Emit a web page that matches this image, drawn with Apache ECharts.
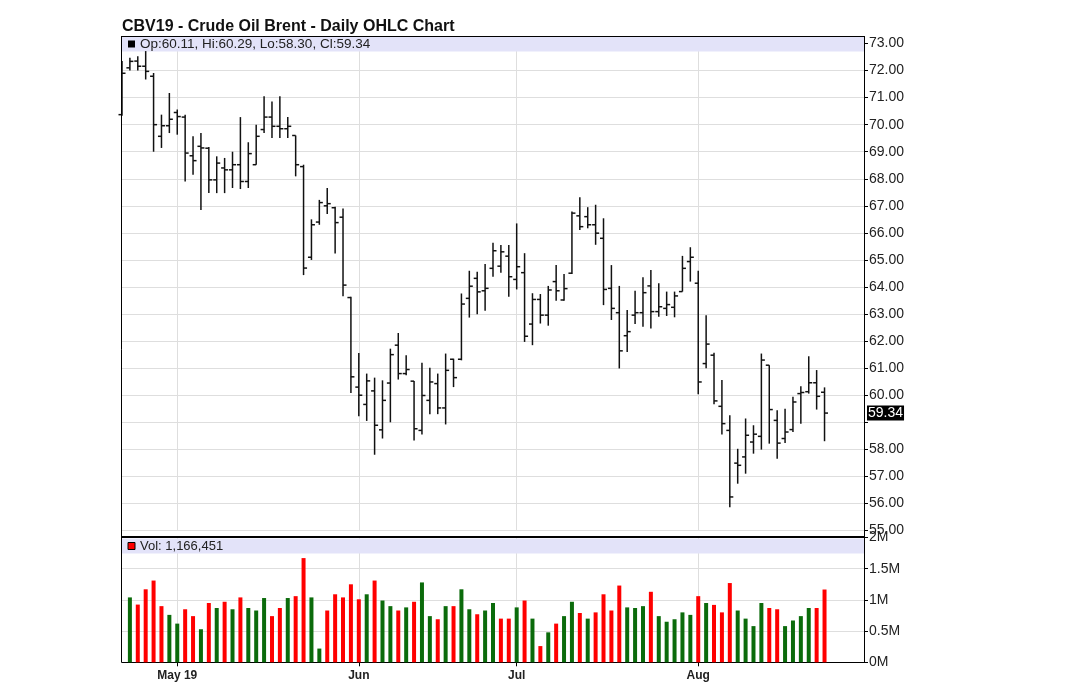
<!DOCTYPE html>
<html>
<head>
<meta charset="utf-8">
<title>CBV19 - Crude Oil Brent - Daily OHLC Chart</title>
<script src="https://cdn.jsdelivr.net/npm/echarts@6/dist/echarts.min.js"></script>
<style>
  html, body { margin: 0; padding: 0; background: #fff; }
  #chart { width: 1085px; height: 689px; }
</style>
</head>
<body>
<div id="chart"></div>
<script>
  // daily sessions from 2019-04-22, one value per session
  const firstSession = '2019-04-22';
  const emptySlots = 5; // blank space right of the last bar

  const opens = [70.37, 72.10, 72.35, 72.16, 71.79, 69.57, 69.96, 70.45, 70.28, 68.85,
    69.20, 69.13, 67.96, 68.40, 68.33, 68.52, 67.90, 68.52, 69.82, 70.28,
    69.94, 69.85, 69.60, 68.45, 65.10, 66.40, 67.00, 66.93, 66.58, 63.61,
    60.30, 59.66, 60.16, 58.72, 60.45, 61.85, 60.80, 60.52, 58.70, 59.81,
    60.43, 59.53, 61.33, 61.33, 63.58, 64.32, 63.86, 64.69, 64.77, 65.14,
    64.28, 64.53, 62.63, 63.54, 62.96, 64.20, 63.52, 64.51, 66.63, 66.60,
    66.30, 65.80, 63.95, 63.05, 62.20, 62.96, 63.05, 64.04, 63.09, 63.21,
    63.25, 63.83, 64.94, 64.14, 61.17, 61.48, 59.59, 58.70, 57.49, 57.72,
    58.27, 58.48, 61.11, 59.07, 58.40, 58.73, 60.06, 60.13, 60.46, 60.11];
  const highs = [72.35, 72.47, 72.53, 72.72, 71.91, 70.37, 71.17, 70.56, 70.37, 69.57,
    69.69, 69.17, 68.83, 68.77, 69.00, 70.28, 69.35, 70.00, 71.05, 70.86,
    71.05, 70.28, 69.60, 68.52, 66.50, 67.22, 67.66, 66.97, 66.90, 63.64,
    61.56, 60.80, 60.65, 60.55, 61.72, 62.30, 61.48, 60.53, 61.20, 61.02,
    60.80, 61.54, 61.35, 63.76, 64.60, 64.56, 64.85, 65.64, 65.55, 65.55,
    66.35, 65.25, 63.77, 63.74, 64.04, 64.81, 64.48, 66.79, 67.32, 66.95,
    67.04, 66.54, 64.81, 64.04, 63.15, 63.86, 64.36, 64.63, 64.14, 63.83,
    63.83, 65.15, 65.47, 64.60, 62.96, 61.57, 60.56, 59.26, 58.02, 59.14,
    58.89, 61.54, 61.11, 59.44, 59.50, 59.94, 60.33, 61.44, 60.93, 60.29];
  const lows = [70.33, 72.00, 72.00, 71.67, 69.00, 69.14, 69.69, 69.63, 67.90, 68.15,
    66.85, 67.47, 67.47, 67.47, 67.66, 67.62, 67.66, 68.52, 69.69, 69.51,
    69.51, 69.51, 68.09, 64.44, 65.00, 66.30, 66.70, 65.24, 63.66, 60.08,
    59.22, 59.05, 57.80, 58.40, 59.00, 60.58, 60.74, 58.33, 58.55, 59.30,
    59.30, 58.92, 60.30, 61.29, 62.87, 62.99, 63.12, 64.38, 64.53, 63.64,
    63.91, 61.97, 61.85, 62.65, 62.57, 63.49, 63.49, 64.48, 66.11, 66.17,
    65.56, 63.33, 62.78, 60.99, 61.60, 62.63, 62.53, 62.47, 62.90, 62.93,
    62.88, 63.83, 64.20, 60.04, 61.00, 59.67, 58.55, 55.86, 56.73, 57.10,
    57.84, 57.99, 58.21, 57.65, 58.23, 58.64, 58.95, 60.06, 59.47, 58.30];
  const closes = [71.90, 72.34, 72.16, 71.97, 70.00, 69.96, 70.20, 70.30, 68.95, 68.67,
    69.14, 67.96, 68.58, 68.33, 68.52, 67.90, 68.93, 69.57, 70.28, 69.94,
    69.85, 69.94, 68.52, 64.70, 66.30, 67.12, 67.08, 66.38, 64.07, 60.68,
    60.00, 60.53, 58.89, 59.81, 61.50, 60.80, 60.95, 58.76, 59.99, 60.49,
    59.53, 60.92, 60.65, 63.37, 64.03, 63.82, 63.95, 65.34, 65.30, 64.38,
    64.75, 62.18, 63.54, 62.96, 63.89, 63.86, 63.94, 66.73, 66.23, 66.30,
    65.99, 63.91, 63.21, 61.64, 62.35, 63.05, 63.79, 63.09, 63.27, 63.35,
    63.67, 64.69, 65.10, 60.49, 61.89, 59.79, 58.95, 56.24, 57.41, 58.52,
    58.56, 61.30, 59.47, 58.23, 58.64, 59.75, 60.10, 60.46, 59.96, 59.34];
  const volumes = [null, 1040000, 925000, 1170000, 1310000, 900000, 760000, 620000, 850000, 740000,
    530000, 950000, 870000, 970000, 850000, 1040000, 870000, 830000, 1030000, 740000,
    870000, 1030000, 1060000, 1670000, 1040000, 220000, 830000, 1090000, 1040000, 1250000,
    1010000, 1090000, 1310000, 990000, 900000, 830000, 880000, 970000, 1280000, 740000,
    690000, 900000, 900000, 1170000, 850000, 770000, 830000, 950000, 700000, 700000,
    880000, 990000, 700000, 260000, 480000, 620000, 740000, 970000, 790000, 700000,
    800000, 1090000, 830000, 1230000, 880000, 870000, 900000, 1130000, 740000, 650000,
    690000, 800000, 760000, 1060000, 950000, 920000, 800000, 1270000, 830000, 700000,
    580000, 950000, 870000, 850000, 580000, 670000, 740000, 870000, 870000, 1166451];

  const monthNames = ['Jan', 'Feb', 'Mar', 'Apr', 'May', 'Jun', 'Jul', 'Aug', 'Sep', 'Oct', 'Nov', 'Dec'];
  const priceMin = 55, priceMax = 73, priceStep = 1;
  const volMax = 2000000, volStep = 500000;

  const UP = '#0b6b0b', DOWN = '#ff0000', BAND = '#e3e3f9', GRIDLINE = '#dedede';
  const FONT = 'Arial, "Liberation Sans", sans-serif';

  // weekday dates for the sessions and the blank slots after them
  function weekdays(start, n) {
    let out = [];
    let d = new Date(start + 'T12:00:00Z');
    while (out.length < n) {
      let wd = d.getUTCDay();
      if (wd !== 0 && wd !== 6) out.push(d.toISOString().slice(0, 10));
      d.setUTCDate(d.getUTCDate() + 1);
    }
    return out;
  }
  const dates = weekdays(firstSession, closes.length + emptySlots);

  // first session of each month gets a tick, label and grid line
  let monthStart = {};
  dates.forEach((d, i) => {
    if (i > 0 && d.slice(5, 7) !== dates[i - 1].slice(5, 7)) {
      let m = parseInt(d.slice(5, 7), 10) - 1;
      monthStart[i] = m === 4 ? monthNames[m] + ' ' + d.slice(2, 4) : monthNames[m];
    }
  });
  const isMonthStart = (idx) => monthStart[idx] !== undefined;

  const last = closes.length - 1;
  const lastClose = closes[last];

  let ohlcData = [];
  for (let i = 0; i < closes.length; i++) {
    ohlcData.push([i, opens[i], highs[i], lows[i], closes[i]]);
  }
  let volData = volumes.map((v, i) => {
    if (v == null) return null;
    return {value: v, itemStyle: {color: closes[i] >= closes[i - 1] ? UP : DOWN}};
  });

  function renderOhlc(params, api) {
    let idx = api.value(0);
    let o = api.coord([idx, api.value(1)]);
    let h = api.coord([idx, api.value(2)]);
    let l = api.coord([idx, api.value(3)]);
    let c = api.coord([idx, api.value(4)]);
    let x = h[0];
    let st = {stroke: '#111', lineWidth: 1.5};
    return {
      type: 'group',
      children: [
        {type: 'line', shape: {x1: x, y1: h[1], x2: x, y2: l[1]}, style: st},
        {type: 'line', shape: {x1: x - 3.5, y1: o[1], x2: x, y2: o[1]}, style: st},
        {type: 'line', shape: {x1: x, y1: c[1], x2: x + 3.5, y2: c[1]}, style: st}
      ]
    };
  }

  const fmt = (n) => n.toFixed(2);
  const headerText = 'Op:' + fmt(opens[last]) + ', Hi:' + fmt(highs[last]) +
    ', Lo:' + fmt(lows[last]) + ', Cl:' + fmt(lastClose);
  const volText = 'Vol: ' + volumes[last].toLocaleString('en-US');

  const chart = echarts.init(document.getElementById('chart'));
  const L = 122, R = 864;

  const option = {
    animation: false,
    backgroundColor: '#fff',
    textStyle: {fontFamily: FONT},
    title: {
      text: 'CBV19 - Crude Oil Brent - Daily OHLC Chart',
      left: 117, top: 14,
      textStyle: {fontSize: 16, fontWeight: 'bold', color: '#111', fontFamily: FONT}
    },
    grid: [
      {left: L, right: 1085 - R, top: 43.5, height: 487},
      {left: L, right: 1085 - R, top: 537.5, height: 124.8}
    ],
    xAxis: [
      {
        type: 'category', gridIndex: 0, data: dates, boundaryGap: false,
        axisLine: {show: false}, axisTick: {show: false}, axisLabel: {show: false},
        splitLine: {show: true, interval: isMonthStart, lineStyle: {color: GRIDLINE}}
      },
      {
        type: 'category', gridIndex: 1, data: dates, boundaryGap: false,
        axisLine: {show: true, lineStyle: {color: '#000', width: 1}},
        axisTick: {show: true, interval: isMonthStart, length: 4, lineStyle: {color: '#000'}},
        axisLabel: {
          show: true, interval: isMonthStart, margin: 7,
          formatter: (v, idx) => monthStart[idx] || '',
          fontSize: 12, fontWeight: 'bold', color: '#222', fontFamily: FONT
        },
        splitLine: {show: true, interval: isMonthStart, lineStyle: {color: GRIDLINE}}
      }
    ],
    yAxis: [
      {
        type: 'value', gridIndex: 0, position: 'right',
        min: priceMin, max: priceMax, interval: priceStep,
        axisLine: {show: true, lineStyle: {color: '#000'}},
        axisTick: {show: true, length: 4, lineStyle: {color: '#000'}},
        axisLabel: {
          margin: 5, fontSize: 14, color: '#222', fontFamily: FONT,
          formatter: (v) => Math.abs(v - lastClose) < 0.5 ? '' : v.toFixed(2)
        },
        splitLine: {show: true, lineStyle: {color: GRIDLINE}}
      },
      {
        type: 'value', gridIndex: 1, position: 'right',
        min: 0, max: volMax, interval: volStep,
        axisLine: {show: true, lineStyle: {color: '#000'}},
        axisTick: {show: true, length: 4, lineStyle: {color: '#000'}},
        axisLabel: {
          margin: 5, fontSize: 14, color: '#222', fontFamily: FONT,
          formatter: (v) => (v / 1000000) + 'M'
        },
        splitLine: {show: true, lineStyle: {color: GRIDLINE}}
      }
    ],
    series: [
      {
        name: 'OHLC', type: 'custom', xAxisIndex: 0, yAxisIndex: 0,
        renderItem: renderOhlc, data: ohlcData,
        encode: {x: 0, y: [1, 2, 3, 4]}, z: 5
      },
      {
        // carries the last-close tag on the price axis
        name: 'Last', type: 'line', xAxisIndex: 0, yAxisIndex: 0,
        data: [[last, lastClose]], showSymbol: false, symbolSize: 0,
        lineStyle: {width: 0}, z: 6,
        markLine: {
          silent: true, symbol: 'none', animation: false,
          lineStyle: {color: 'rgba(0,0,0,0)', width: 1, type: 'solid'},
          data: [{yAxis: lastClose}],
          label: {
            show: true, position: 'end', distance: 3,
            formatter: fmt(lastClose),
            backgroundColor: '#000', color: '#fff', fontSize: 14,
            fontFamily: FONT, padding: [1, 1, 0, 1]
          }
        }
      },
      {
        name: 'Volume', type: 'bar', xAxisIndex: 1, yAxisIndex: 1,
        data: volData, barWidth: 4
      }
    ],
    graphic: [
      {type: 'rect', z: 1, shape: {x: L, y: 36.5, width: R - L, height: 15}, style: {fill: BAND}},
      {type: 'rect', z: 1, shape: {x: L, y: 538.5, width: R - L, height: 15}, style: {fill: BAND}},
      {type: 'line', z: 10, shape: {x1: L, y1: 36.5, x2: R, y2: 36.5}, style: {stroke: '#000', lineWidth: 1}},
      {type: 'line', z: 10, shape: {x1: L, y1: 537, x2: R, y2: 537}, style: {stroke: '#000', lineWidth: 2}},
      {type: 'line', z: 10, shape: {x1: L - 0.5, y1: 36, x2: L - 0.5, y2: 662.5}, style: {stroke: '#000', lineWidth: 1}},
      {type: 'line', z: 10, shape: {x1: R + 0.5, y1: 36, x2: R + 0.5, y2: 662.5}, style: {stroke: '#000', lineWidth: 1}},
      {type: 'rect', z: 10, shape: {x: 128, y: 40.5, width: 7, height: 7}, style: {fill: '#000'}},
      {type: 'text', z: 10, x: 140, y: 44, style: {text: headerText, fontSize: 13.5, fill: '#222', fontFamily: FONT, verticalAlign: 'middle'}},
      {type: 'rect', z: 10, shape: {x: 128, y: 542.5, width: 7, height: 7}, style: {fill: DOWN, stroke: '#000', lineWidth: 1}},
      {type: 'text', z: 10, x: 140, y: 546, style: {text: volText, fontSize: 13, fill: '#222', fontFamily: FONT, verticalAlign: 'middle'}}
    ]
  };
  chart.setOption(option);
</script>
</body>
</html>
